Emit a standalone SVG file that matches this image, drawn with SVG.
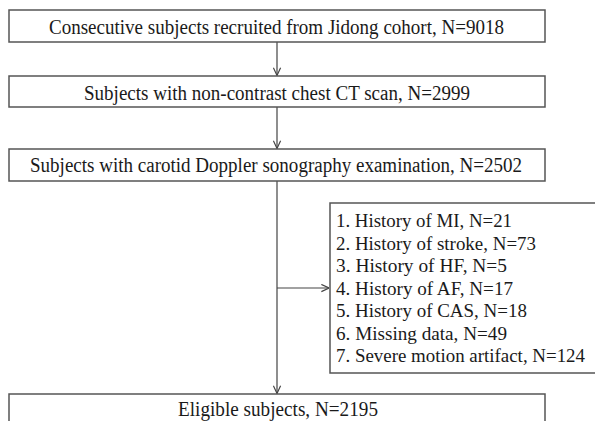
<svg xmlns="http://www.w3.org/2000/svg" width="595" height="421" viewBox="0 0 595 421">
<defs>
<style>
.box{fill:#fff;stroke:#555;stroke-width:1.5}
.t{font-family:"Liberation Serif","Times New Roman",serif;font-size:20.5px;fill:#1a1a1a}
.s{font-size:19.5px}
.ln{fill:none;stroke:#444;stroke-width:1.2}
</style>
<marker id="ah" viewBox="0 0 10 10" refX="9.5" refY="5" markerWidth="9" markerHeight="9" markerUnits="userSpaceOnUse" orient="auto">
<path d="M1,1 L9.5,5 L1,9" fill="none" stroke="#444" stroke-width="1.3"/>
</marker>
</defs>
<rect width="595" height="421" fill="#fff"/>
<g id="connectors">
<line class="ln" x1="277" y1="42" x2="277" y2="75.5" marker-end="url(#ah)"/>
<line class="ln" x1="277" y1="107" x2="277" y2="148.5" marker-end="url(#ah)"/>
<line class="ln" x1="277" y1="181" x2="277" y2="393.5" marker-end="url(#ah)"/>
<line class="ln" x1="277" y1="288" x2="329" y2="288" marker-end="url(#ah)"/>
</g>
<g id="n1">
<rect class="box" x="9" y="10" width="536" height="32"/>
<text class="t" x="49" y="33.5" textLength="455" lengthAdjust="spacingAndGlyphs">Consecutive subjects recruited from Jidong cohort, N=9018</text>
</g>
<g id="n2">
<rect class="box" x="9" y="76" width="536" height="31"/>
<text class="t" x="84" y="99.5" textLength="386" lengthAdjust="spacingAndGlyphs">Subjects with non-contrast chest CT scan, N=2999</text>
</g>
<g id="n3">
<rect class="box" x="9" y="149" width="536" height="32"/>
<text class="t" x="30" y="171.5" textLength="492" lengthAdjust="spacingAndGlyphs">Subjects with carotid Doppler sonography examination, N=2502</text>
</g>
<g id="n4">
<path class="box" d="M595,203 H330 V373 H595"/>
<text class="t s" x="336" y="227" textLength="176" lengthAdjust="spacingAndGlyphs">1. History of MI, N=21</text>
<text class="t s" x="336" y="249.5" textLength="200" lengthAdjust="spacingAndGlyphs">2. History of stroke, N=73</text>
<text class="t s" x="336" y="272" textLength="171" lengthAdjust="spacingAndGlyphs">3. History of HF, N=5</text>
<text class="t s" x="336" y="294.5" textLength="177" lengthAdjust="spacingAndGlyphs">4. History of AF, N=17</text>
<text class="t s" x="336" y="317" textLength="191" lengthAdjust="spacingAndGlyphs">5. History of CAS, N=18</text>
<text class="t s" x="336" y="339.5" textLength="171" lengthAdjust="spacingAndGlyphs">6. Missing data, N=49</text>
<text class="t s" x="336" y="362" textLength="249" lengthAdjust="spacingAndGlyphs">7. Severe motion artifact, N=124</text>
</g>
<g id="n5">
<path class="box" d="M9,421 V394 H545 V421"/>
<text class="t" x="178" y="416" textLength="200" lengthAdjust="spacingAndGlyphs">Eligible subjects, N=2195</text>
</g>
</svg>
